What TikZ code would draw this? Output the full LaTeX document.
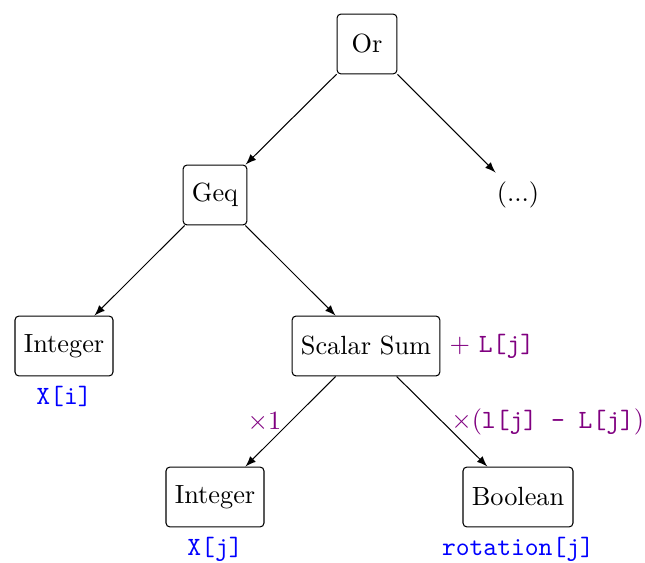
\documentclass[tikz,border=0pt]{standalone}
\usetikzlibrary{arrows}
\definecolor{labviolet}{rgb}{0.5,0,0.5}
\begin{document}
\begin{tikzpicture}[x=0.38pt,y=-0.38pt,
  box/.style={draw,rounded corners=1.5pt,minimum width=0.8cm,minimum height=0.8cm},
  plain/.style={},
  var/.style={font=\ttfamily,text=blue},
  coef/.style={text=labviolet},
  edge/.style={-latex}]
\useasboundingbox (0,0) rectangle (645,563);
\node[box] (or) at (367,44) {Or};
\node[box] (geq) at (215,195) {Geq};
\node[plain] (dots) at (518,195) {(...)};
\node[box,label={[var]below:X[i]}] (int1) at (64,346) {Integer};
\node[box,label={[coef]right:$+$ \texttt{L[j]}}] (sum) at (366,346) {Scalar Sum};
\node[box,label={[var]below:X[j]}] (int2) at (215,497) {Integer};
\node[box,label={[var]below:rotation[j]}] (bool) at (518,497) {Boolean};
\draw[edge] (or) -- (geq);
\draw[edge] (or) -- (dots);
\draw[edge] (geq) -- (int1);
\draw[edge] (geq) -- (sum);
\draw[edge] (sum) -- node[coef,left] {$\times$1} (int2);
\draw[edge] (sum) -- node[coef,right] {$\times$(\texttt{l[j] - L[j]})} (bool);
\end{tikzpicture}
\end{document}
